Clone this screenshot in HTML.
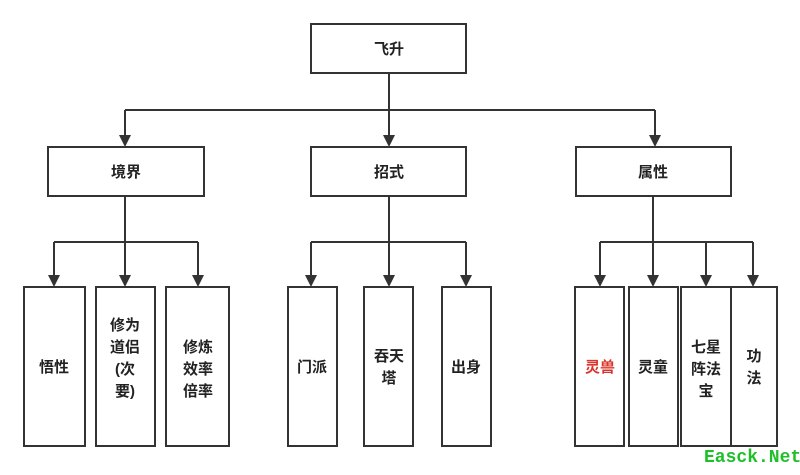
<!DOCTYPE html><html><head><meta charset="utf-8"><style>body{margin:0;background:#fff}</style></head><body>
<svg width="800" height="470" xmlns="http://www.w3.org/2000/svg" font-family="Liberation Sans, Noto Sans CJK SC, sans-serif" font-size="15" font-weight="bold">
<g stroke="#333" stroke-width="2" fill="none">
<path d="M389 73V140M125 110H655M125 110V140M655 110V140"/>
<path d="M125 196V280M54 242H198M54 242V280M198 242V280"/>
<path d="M389 196V280M311 242H466M311 242V280M466 242V280"/>
<path d="M653 196V280M600 242H753M600 242V280M706 242V280M753 242V280"/>
</g>
<g fill="#333">
<path d="M119 135h12l-6 12zM383 135h12l-6 12zM649 135h12l-6 12z"/>
<path d="M48 275h12l-6 12zM119 275h12l-6 12zM192 275h12l-6 12zM305 275h12l-6 12zM383 275h12l-6 12zM460 275h12l-6 12zM594 275h12l-6 12zM647 275h12l-6 12zM700 275h12l-6 12zM747 275h12l-6 12z"/>
</g>
<g fill="#fff" stroke="#333" stroke-width="2">
<rect x="311" y="24" width="155" height="49"/>
<rect x="48" y="147" width="156" height="49"/><rect x="311" y="147" width="155" height="49"/><rect x="576" y="147" width="155" height="49"/>
<rect x="24" y="287" width="61" height="159"/><rect x="96" y="287" width="59" height="159"/><rect x="166" y="287" width="63" height="159"/>
<rect x="288" y="287" width="49" height="159"/><rect x="364" y="287" width="49" height="159"/><rect x="442" y="287" width="49" height="159"/>
<rect x="575" y="287" width="49" height="159"/><rect x="629" y="287" width="49" height="159"/><rect x="681" y="287" width="50" height="159"/><rect x="731" y="287" width="46" height="159"/>
</g>
<g fill="#222" text-anchor="middle">
<text x="389" y="54">飞升</text><text x="126" y="177">境界</text><text x="389" y="177">招式</text><text x="653" y="177">属性</text>
<text x="54" y="372">悟性</text>
<text x="125" y="330">修为</text><text x="125" y="352">道侣</text><text x="125" y="374">(次</text><text x="125" y="396">要)</text>
<text x="198" y="352">修炼</text><text x="198" y="374">效率</text><text x="198" y="396">倍率</text>
<text x="312" y="372">门派</text><text x="389" y="361">吞天</text><text x="389" y="383">塔</text><text x="466" y="372">出身</text>
<text x="600" y="372" fill="#d9352b">灵兽</text><text x="653" y="372">灵童</text>
<text x="706" y="352">七星</text><text x="706" y="374">阵法</text><text x="706" y="396">宝</text>
<text x="754" y="361">功</text><text x="754" y="383">法</text>
</g>
<text x="704" y="462" fill="#1fbf2a" font-family="Liberation Mono, monospace" font-size="18">Easck.Net</text>
</svg></body></html>
